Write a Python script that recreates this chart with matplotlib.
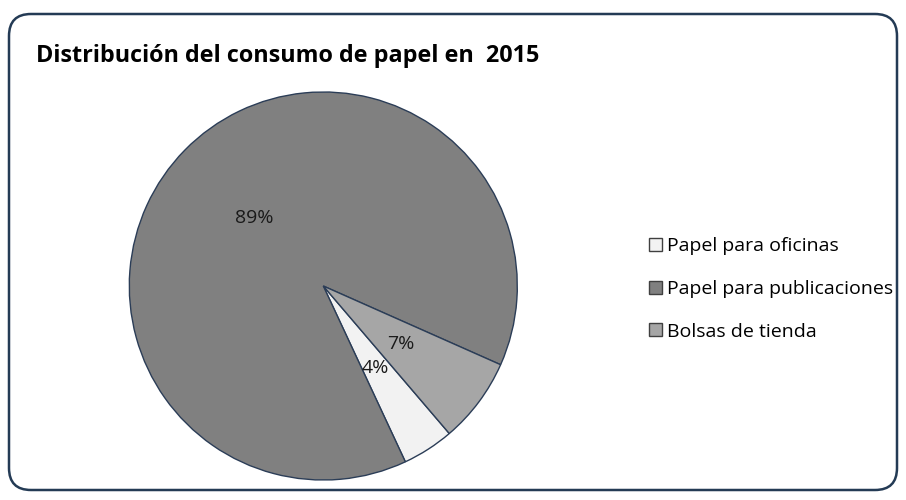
import matplotlib.pyplot as plt
from matplotlib.patches import FancyBboxPatch, Patch

# consumo de papel 2015 (share, %)
categorias = ["Papel para oficinas", "Papel para publicaciones", "Bolsas de tienda"]
porcentajes = [4.3, 88.6, 7.1]
colores = ["#f2f2f2", "#808080", "#a6a6a6"]
titulo = "Distribución del consumo de papel en  2015"

W, H = 906, 500
plt.rcParams['font.family'] = ['Open Sans', 'DejaVu Sans']

fig = plt.figure(figsize=(W / 100, H / 100), dpi=100)

# background layer in pixel coords for the rounded frame
bg = fig.add_axes([0, 0, 1, 1])
bg.set_xlim(0, W)
bg.set_ylim(H, 0)
bg.axis('off')
frame = FancyBboxPatch((9, 14), W - 18, H - 24,
                       boxstyle="round,pad=0,rounding_size=22",
                       facecolor='white', edgecolor='#243b55', linewidth=1.8)
bg.add_patch(frame)
bg.text(36, 56, titulo, fontsize=16.8, fontweight='bold', color='black',
        va='center', ha='left')

# pie
cx, cy, r = 323.3, 286, 194
ax = fig.add_axes([(cx - r) / W, (H - cy - r) / H, 2 * r / W, 2 * r / H])
wedges, texts, autotexts = ax.pie(
    porcentajes, colors=colores, startangle=-49.5, counterclock=False,
    autopct='%.0f%%', pctdistance=0.5,
    wedgeprops=dict(edgecolor='#2b3d57', linewidth=1.0),
    textprops=dict(fontsize=14, color='#1a1a1a'))
ax.set_xlim(-1, 1)
ax.set_ylim(-1, 1)
ax.set_aspect('equal')

handles = [Patch(facecolor=c, edgecolor='#404040', linewidth=1.0) for c in colores]
fig.legend(handles, categorias, loc='center left', bbox_to_anchor=(0.697, 0.422),
           frameon=False, fontsize=14, handlelength=0.65, handleheight=0.65,
           handletextpad=0.3, labelspacing=1.27)

fig.savefig('out.png', dpi=100)
